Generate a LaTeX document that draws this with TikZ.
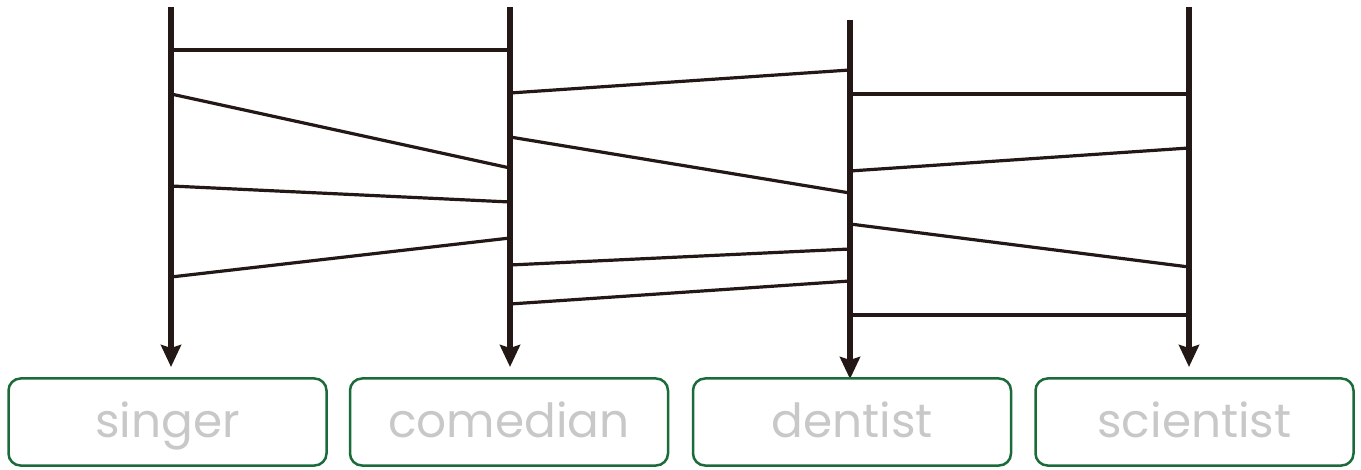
\documentclass[tikz,border=0pt]{standalone}
\usepackage{fontspec}
\newfontfamily\labelfont{Poppins}
\usetikzlibrary{arrows.meta}
\definecolor{boxgreen}{HTML}{1B6B3A}
\definecolor{lblgray}{HTML}{C8C8C8}
\definecolor{ink}{HTML}{231815}
\tikzset{
  pole/.style={line width=6pt, ink, -{Stealth[length=22pt,width=20pt,inset=3pt]}},
  rung/.style={line width=3.2pt, ink},
  lbox/.style={draw=boxgreen, line width=2.5pt, rounded corners=12pt, minimum width=318pt, text height=58.5pt, text depth=28.5pt, inner sep=0pt, text=lblgray, font=\labelfont\fontsize{47}{47}\selectfont},
}
\begin{document}
\begin{tikzpicture}[x=1pt,y=-1pt]
\useasboundingbox (0,0) rectangle (1361,470);
% poles
\coordinate (t1) at (171,7);   \coordinate (b1) at (171,367);
\coordinate (t2) at (510,7);   \coordinate (b2) at (510,367);
\coordinate (t3) at (850,20);  \coordinate (b3) at (850,379);
\coordinate (t4) at (1189,7);  \coordinate (b4) at (1189,367);
\draw[pole] (t1) -- (b1);
\draw[pole] (t2) -- (b2);
\draw[pole] (t3) -- (b3);
\draw[pole] (t4) -- (b4);
% rungs 1-2
\draw[rung] (171,50) -- (510,50);
\draw[rung] (171,94) -- (510,168);
\draw[rung] (171,186) -- (510,202);
\draw[rung] (171,277) -- (510,238);
% rungs 2-3
\draw[rung] (510,93) -- (850,70);
\draw[rung] (510,137) -- (850,193);
\draw[rung] (510,265) -- (850,249);
\draw[rung] (510,304) -- (850,281);
% rungs 3-4
\draw[rung] (850,94) -- (1189,94);
\draw[rung] (850,171) -- (1189,148);
\draw[rung] (850,224) -- (1189,267);
\draw[rung] (850,315) -- (1189,315);
% boxes
\node[lbox] (n1) at (167.5,422) {singer};
\node[lbox] (n2) at (509,422) {comedian};
\node[lbox] (n3) at (852,422) {dentist};
\node[lbox] (n4) at (1194.5,422) {scientist};
\end{tikzpicture}
\end{document}
